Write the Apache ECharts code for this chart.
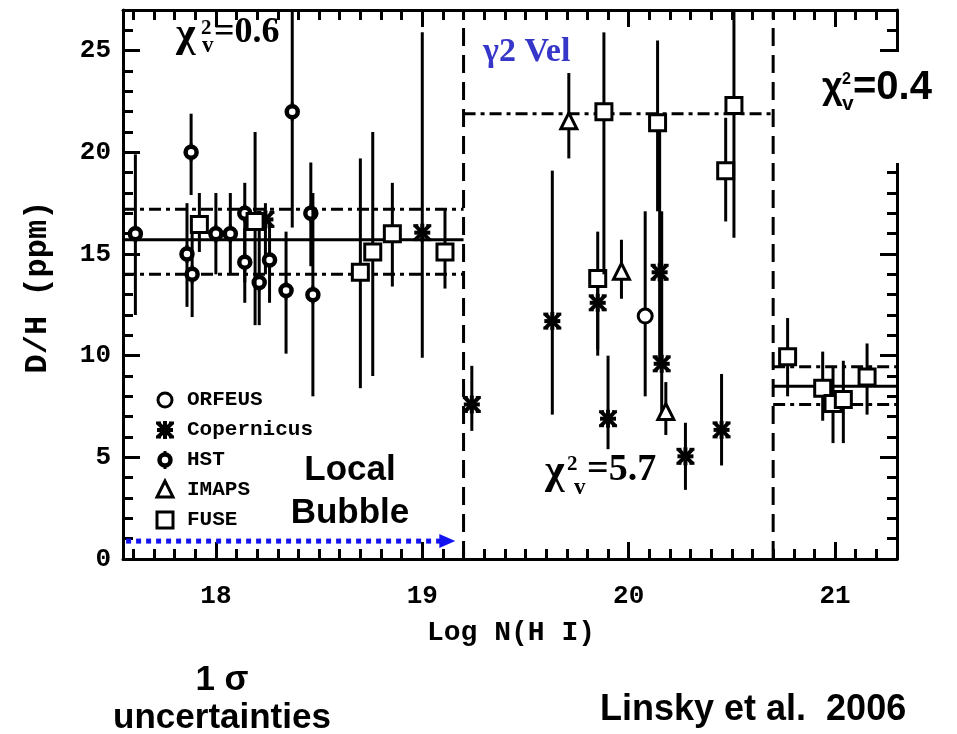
<!DOCTYPE html>
<html>
<head>
<meta charset="utf-8">
<script src="https://cdn.jsdelivr.net/npm/echarts@6.0.0/dist/echarts.min.js"></script>
<style>
html, body { margin: 0; padding: 0; background: #fff; }
#main { width: 957px; height: 734px; }
</style>
</head>
<body>
<div id="main"></div>
<script>
// axis ranges
var xMin = 17.55, xMax = 21.3, yMin = 0, yMax = 27;
var xMajor = [18, 19, 20, 21];
var yMajor = [0, 5, 10, 15, 20, 25];

// points: [log N(HI), D/H, lower end of bar, upper end of bar]
var orfeus = [
    [20.08, 11.95, 8.0, 17.1]
];
var copernicus = [
    [18.24, 16.7, 14.0, 17.5],
    [19.0, 16.05, 9.9, 25.9],
    [19.24, 7.6, 6.3, 9.5],
    [19.63, 11.7, 7.1, 19.1],
    [19.85, 12.6, 10.0, 13.8],
    [19.9, 6.9, 5.4, 10.0],
    [20.15, 14.1, 9.5, 21.9],
    [20.16, 9.6, 7.0, 17.1],
    [20.275, 5.05, 3.4, 6.7],
    [20.45, 6.35, 4.6, 9.1]
];
var hst = [
    [17.61, 16.0, 12.0, 19.9],
    [17.88, 20.0, 17.9, 21.9],
    [17.86, 15.0, 12.4, 17.5],
    [17.885, 14.0, 11.9, 16.0],
    [18.0, 16.0, 14.0, 18.0],
    [18.07, 16.0, 14.0, 18.0],
    [18.14, 17.0, 13.6, 18.5],
    [18.14, 14.6, 12.6, 16.3],
    [18.21, 13.6, 11.5, 17.1],
    [18.26, 14.7, 12.6, 16.7],
    [18.34, 13.2, 10.1, 16.1],
    [18.37, 22.0, 16.3, 28],
    [18.46, 17.0, 14.4, 19.5],
    [18.47, 13.0, 8.0, 18.0]
];
var dmaps = [
    [19.71, 21.5, 19.7, 23.9],
    [19.965, 14.1, 12.8, 15.7],
    [20.18, 7.2, 6.1, 8.7]
];
var fuse = [
    [17.92, 16.45, 15.1, 18.0],
    [18.19, 16.6, 11.5, 21.0],
    [18.70, 14.1, 8.4, 19.7],
    [18.76, 15.1, 9.0, 21.0],
    [18.855, 16.0, 13.4, 18.5],
    [19.11, 15.1, 13.3, 17.2],
    [19.85, 13.8, 10.3, 16.1],
    [19.88, 22.0, 14.0, 25.9],
    [20.14, 21.45, 17.1, 25.5],
    [20.47, 19.1, 16.6, 21.7],
    [20.51, 22.3, 15.8, 28],
    [20.77, 9.95, 8.0, 11.85],
    [20.94, 8.4, 6.8, 10.2],
    [20.99, 7.65, 5.7, 9.4],
    [21.04, 7.85, 5.7, 9.75],
    [21.155, 8.95, 7.1, 10.6]
];

// mean / sigma lines and region borders: [x0, y0, x1, y1, kind] kind 0 solid, 1 dash-dot, 2 dashed
var fitLines = [
    [17.55, 15.7, 19.2, 15.7, 0],
    [17.55, 17.2, 19.2, 17.2, 1],
    [17.55, 14.0, 19.2, 14.0, 1],
    [19.2, 21.9, 20.7, 21.9, 1],
    [20.7, 8.5, 21.3, 8.5, 0],
    [20.7, 9.45, 21.3, 9.45, 1],
    [20.7, 7.6, 21.3, 7.6, 1],
    [19.2, 0, 19.2, 27, 2],
    [20.7, 0, 20.7, 27, 2]
];
var bubbleArrow = [[17.565, 0.88, 19.16, 0.88]];

var legendNames = ['ORFEUS', 'Copernicus', 'HST', 'IMAPS', 'FUSE'];
var legendKinds = ['circle', 'star', 'hst', 'triangle', 'square'];

var xMinor = [], yMinor = [];
for (var i = 176; i <= 212; i++) { if (i % 10) xMinor.push(i / 10); }
for (var j = 1; j <= 26; j++) { if (j % 5) yMinor.push(j); }

function drawMarker(kind, px, py) {
    var s = {fill: '#fff', stroke: '#000', lineWidth: 3};
    if (kind === 'square') {
        return [{type: 'rect', shape: {x: px - 8, y: py - 8, width: 16, height: 16}, style: s}];
    }
    if (kind === 'circle') {
        return [{type: 'circle', shape: {cx: px, cy: py, r: 7}, style: s}];
    }
    if (kind === 'hst') {
        return [
            {type: 'line', shape: {x1: px, y1: py - 9, x2: px, y2: py + 9}, style: {stroke: '#000', lineWidth: 3}},
            {type: 'circle', shape: {cx: px, cy: py, r: 5.5}, style: {fill: '#fff', stroke: '#000', lineWidth: 4.5}}
        ];
    }
    if (kind === 'triangle') {
        return [{type: 'polygon', shape: {points: [[px, py - 9], [px - 8, py + 7], [px + 8, py + 7]]}, style: s}];
    }
    // copernicus asterisk
    var l = {stroke: '#000', lineWidth: 4};
    var c = {stroke: '#000', lineWidth: 3};
    return [
        {type: 'line', shape: {x1: px - 7, y1: py - 7, x2: px + 7, y2: py + 7}, style: l},
        {type: 'line', shape: {x1: px + 7, y1: py - 7, x2: px - 7, y2: py + 7}, style: l},
        {type: 'line', shape: {x1: px - 8, y1: py, x2: px + 8, y2: py}, style: l},
        {type: 'line', shape: {x1: px, y1: py - 9, x2: px, y2: py + 9}, style: l},
        {type: 'line', shape: {x1: px - 9, y1: py - 7, x2: px - 4, y2: py - 7}, style: c},
        {type: 'line', shape: {x1: px + 4, y1: py - 7, x2: px + 9, y2: py - 7}, style: c},
        {type: 'line', shape: {x1: px - 9, y1: py + 7, x2: px - 4, y2: py + 7}, style: c},
        {type: 'line', shape: {x1: px + 4, y1: py + 7, x2: px + 9, y2: py + 7}, style: c}
    ];
}

function pointSeries(name, kind, data) {
    return {
        name: name,
        type: 'custom',
        data: data,
        z: 5,
        renderItem: function (params, api) {
            var x = api.value(0);
            var p = api.coord([x, api.value(1)]);
            var lo = api.coord([x, Math.max(api.value(2), yMin)]);
            var hi = api.coord([x, Math.min(api.value(3), yMax)]);
            var bar = {type: 'line', shape: {x1: lo[0], y1: lo[1], x2: hi[0], y2: hi[1]}, style: {stroke: '#000', lineWidth: 3}};
            return {type: 'group', children: [bar].concat(drawMarker(kind, p[0], p[1]))};
        }
    };
}

function txt(text, x, y, font, extra) {
    var el = {
        type: 'text', x: x, y: y, z: 120,
        style: {text: text, font: font, fill: '#000', textAlign: 'left', textVerticalAlign: 'middle'}
    };
    if (extra) {
        for (var k in extra) {
            if (k === 'rotation') el.rotation = extra[k];
            else el.style[k] = extra[k];
        }
    }
    return el;
}

var serif = '"Liberation Serif"';
var sans = '"Liberation Sans"';
var mono = '"Liberation Mono"';

var graphics = [
    {type: 'rect', z: 110, shape: {x: 803, y: 52, width: 154, height: 111}, style: {fill: '#fff'}},
    txt('χ', 176, 35, 'bold 42px ' + serif),
    txt('2', 201, 29, 'bold 21px ' + serif),
    txt('v', 202, 46, 'bold 23px ' + serif),
    txt('=0.6', 214, 33, 'bold 36px ' + serif),
    txt('γ2 Vel', 483, 52, 'bold 34px ' + serif, {fill: '#3636c8'}),
    txt('χ', 822, 88, 'bold 36px ' + sans),
    txt('2', 842, 80, 'bold 16px ' + sans),
    txt('v', 842, 104, 'bold 21px ' + sans),
    txt('=0.4', 853, 88, 'bold 40px ' + sans),
    txt('χ', 545, 472, 'bold 42px ' + serif),
    txt('2', 567, 465, 'bold 21px ' + serif),
    txt('v', 574, 488, 'bold 23px ' + serif),
    txt('=5.7', 587, 470, 'bold 38px ' + serif),
    txt('Local', 350, 470, 'bold 35px ' + sans, {textAlign: 'center'}),
    txt('Bubble', 350, 513, 'bold 35px ' + sans, {textAlign: 'center'}),
    txt('1 σ', 222, 680, 'bold 35px ' + sans, {textAlign: 'center'}),
    txt('uncertainties', 222, 718, 'bold 35px ' + sans, {textAlign: 'center'}),
    txt('Linsky et al.  2006', 600, 710, 'bold 36px ' + sans),
    txt('Log N(H I)', 511, 633, 'bold 28px ' + mono, {textAlign: 'center'}),
    txt('D/H (ppm)', 38, 287, 'bold 32px ' + mono, {textAlign: 'center', rotation: Math.PI / 2})
];
for (var n = 0; n < legendNames.length; n++) {
    var ly = 400 + n * 30;
    graphics.push({type: 'group', z: 120, children: drawMarker(legendKinds[n], 165, ly)});
    graphics.push(txt(legendNames[n], 187, ly, 'bold 21px ' + mono));
}

var tickLabel = {color: '#000', fontFamily: mono, fontWeight: 'bold', fontSize: 26};
function axisLineDef(withLine) {
    return {show: withLine, onZero: false, lineStyle: {color: '#000', width: 3}};
}
function xAxisDef(grid, pos, ticks, len, withLine, withLabel) {
    return {
        type: 'value', gridIndex: grid, position: pos, min: xMin, max: xMax,
        axisLine: axisLineDef(withLine),
        axisTick: {show: true, inside: true, length: len, customValues: ticks, lineStyle: {color: '#000', width: 3}},
        axisLabel: withLabel ? Object.assign({show: true, customValues: xMajor, margin: 24}, tickLabel) : {show: false},
        splitLine: {show: false}
    };
}
function yAxisDef(grid, pos, ticks, len, withLine, withLabel) {
    return {
        type: 'value', gridIndex: grid, position: pos, min: yMin, max: yMax,
        axisLine: axisLineDef(withLine),
        axisTick: {show: true, inside: true, length: len, customValues: ticks, lineStyle: {color: '#000', width: 3}},
        axisLabel: withLabel ? Object.assign({show: true, customValues: yMajor, margin: 12}, tickLabel) : {show: false},
        splitLine: {show: false}
    };
}

var plotRect = {left: 123, right: 60, top: 10, bottom: 175};
var myChart = echarts.init(document.getElementById('main'));
myChart.setOption({
    backgroundColor: '#fff',
    animation: false,
    grid: [plotRect, plotRect],
    xAxis: [
        xAxisDef(0, 'bottom', xMajor, 17, true, true),
        xAxisDef(0, 'top', xMajor, 17, true, false),
        xAxisDef(1, 'bottom', xMinor, 10, false, false),
        xAxisDef(1, 'top', xMinor, 10, false, false)
    ],
    yAxis: [
        yAxisDef(0, 'left', yMajor, 17, true, true),
        yAxisDef(0, 'right', yMajor, 17, true, false),
        yAxisDef(1, 'left', yMinor, 10, false, false),
        yAxisDef(1, 'right', yMinor, 10, false, false)
    ],
    series: [
        {
            name: 'fits',
            type: 'custom',
            data: fitLines,
            z: 3,
            renderItem: function (params, api) {
                var a = api.coord([api.value(0), api.value(1)]);
                var b = api.coord([api.value(2), api.value(3)]);
                var k = api.value(4);
                var dash = k === 0 ? null : (k === 1 ? [12, 5, 4, 5] : [18, 9]);
                return {type: 'line', shape: {x1: a[0], y1: a[1], x2: b[0], y2: b[1]},
                    style: {stroke: '#000', lineWidth: 3, lineDash: dash}};
            }
        },
        {
            name: 'arrow',
            type: 'custom',
            data: bubbleArrow,
            z: 4,
            renderItem: function (params, api) {
                var a = api.coord([api.value(0), api.value(1)]);
                var b = api.coord([api.value(2), api.value(3)]);
                return {type: 'group', children: [
                    {type: 'line', shape: {x1: a[0], y1: a[1], x2: b[0] - 15, y2: b[1]},
                        style: {stroke: '#1414f0', lineWidth: 5, lineDash: [5, 5]}},
                    {type: 'polygon', shape: {points: [[b[0], b[1]], [b[0] - 16, b[1] - 7], [b[0] - 16, b[1] + 7]]},
                        style: {fill: '#1414f0'}}
                ]};
            }
        },
        pointSeries('ORFEUS', 'circle', orfeus),
        pointSeries('Copernicus', 'star', copernicus),
        pointSeries('HST', 'hst', hst),
        pointSeries('IMAPS', 'triangle', dmaps),
        pointSeries('FUSE', 'square', fuse)
    ],
    graphic: graphics
});
</script>
</body>
</html>
